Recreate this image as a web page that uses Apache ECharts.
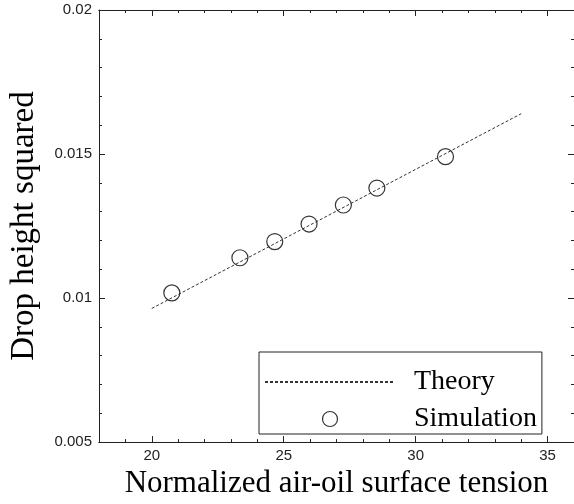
<!DOCTYPE html>
<html>
<head>
<meta charset="utf-8">
<script src="https://cdn.jsdelivr.net/npm/echarts@6/dist/echarts.min.js"></script>
<style>html,body{margin:0;padding:0;background:#fff}#c{width:574px;height:504px}</style>
</head>
<body>
<div id="c"></div>
<script>
// ---- data ----
var simX = [20.76, 23.34, 24.66, 25.96, 27.26, 28.53, 31.13];
var simY = [0.01018, 0.0114, 0.01196, 0.01257, 0.01323, 0.01382, 0.01491];
var theoryX = [20, 34];
var theoryY = [0.00964, 0.0164];
var xMajorTicks = [20, 25, 30, 35];
var xMinorTicks = [19, 21, 22, 23, 24, 26, 27, 28, 29, 31, 32, 33, 34];
var xTitle = 'Normalized air-oil surface tension';
var yTitle = 'Drop height squared';
var seriesNames = ['Theory', 'Simulation'];

function zip(a, b) { return a.map(function (v, i) { return [v, b[i]]; }); }

var axisColor = '#222';
var serif = 'Liberation Serif';
var sans = 'Liberation Sans';

function xAx(pos, ticks, len, showLabel, name) {
  return {
    type: 'value', position: pos, min: 18, max: 36,
    name: name || '', nameLocation: 'middle', nameGap: 22,
    nameTextStyle: { fontFamily: serif, fontSize: 31, color: '#000' },
    axisLine: { show: true, lineStyle: { color: axisColor, width: 1 } },
    axisTick: { show: true, inside: true, length: len, customValues: ticks, lineStyle: { color: axisColor } },
    axisLabel: { show: showLabel, customValues: xMajorTicks, fontFamily: sans, fontSize: 15, color: '#222', margin: 6 },
    splitLine: { show: false }
  };
}
function yAx(pos, showLabel, name) {
  return {
    type: 'value', position: pos, min: 0.005, max: 0.02, interval: 0.005,
    name: name || '', nameLocation: 'middle', nameGap: 58,
    nameTextStyle: { fontFamily: serif, fontSize: 33, color: '#000' },
    axisLine: { show: true, lineStyle: { color: axisColor, width: 1 } },
    axisTick: { show: true, inside: true, length: 6, lineStyle: { color: axisColor } },
    minorTick: { show: true, splitNumber: 5, length: 3, lineStyle: { color: axisColor } },
    axisLabel: { show: showLabel, fontFamily: sans, fontSize: 15, color: '#222', margin: 7 },
    splitLine: { show: false }
  };
}

var chart = echarts.init(document.getElementById('c'), null, { renderer: 'canvas' });
chart.setOption({
  animation: false,
  backgroundColor: '#fff',
  grid: { left: 92, right: -3, top: 10, bottom: 52 },
  xAxis: [
    xAx('bottom', xMajorTicks, 6, true, xTitle),
    xAx('bottom', xMinorTicks, 3, false),
    xAx('top', xMajorTicks, 6, false),
    xAx('top', xMinorTicks, 3, false)
  ],
  yAxis: [
    yAx('left', true, yTitle),
    yAx('right', false)
  ],
  legend: {
    orient: 'vertical', left: 259, top: 352,
    data: [
      { name: seriesNames[0], itemStyle: { opacity: 0 } },
      { name: seriesNames[1], itemStyle: { color: 'rgba(0,0,0,0)', borderColor: '#000', borderWidth: 1.2 } }
    ],
    itemWidth: 130, itemHeight: 15, itemGap: 9,
    padding: [16, 5, 1, 5],
    borderColor: '#222', borderWidth: 1,
    textStyle: { fontFamily: serif, fontSize: 28, lineHeight: 28, color: '#000', padding: [0, 0, 0, 14] }
  },
  series: [
    {
      name: seriesNames[0], type: 'line', data: zip(theoryX, theoryY),
      symbol: 'none', showSymbol: false,
      lineStyle: { color: '#333', width: 1, type: [3, 2] },
      itemStyle: { color: '#333' }
    },
    {
      name: seriesNames[1], type: 'scatter', data: zip(simX, simY),
      symbol: 'circle', symbolSize: 16,
      itemStyle: { color: 'rgba(0,0,0,0)', borderColor: '#000', borderWidth: 1.2 }
    }
  ]
});
</script>
</body>
</html>
